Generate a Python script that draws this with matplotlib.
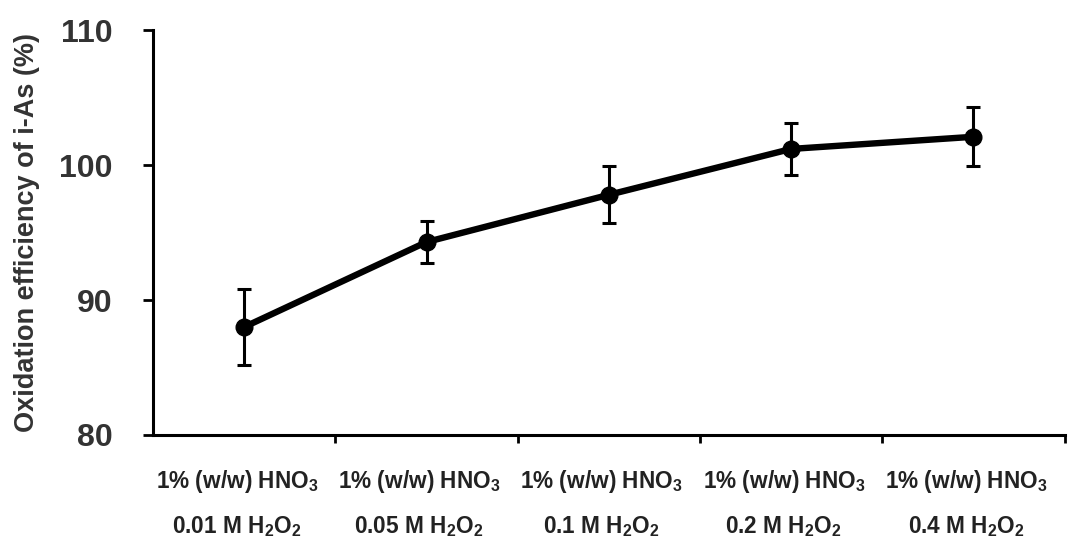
import matplotlib
matplotlib.use('Agg')
import matplotlib.pyplot as plt
import numpy as np

# Data
hno3 = ['1% (w/w) HNO$_3$'] * 5
h2o2 = ['0.01 M H$_2$O$_2$', '0.05 M H$_2$O$_2$', '0.1 M H$_2$O$_2$',
        '0.2 M H$_2$O$_2$', '0.4 M H$_2$O$_2$']
efficiency = [88.0, 94.3, 97.8, 101.2, 102.1]
errors = [2.85, 1.55, 2.1, 1.9, 2.2]

plt.rcParams['font.family'] = ['Liberation Sans', 'DejaVu Sans']
plt.rcParams['font.weight'] = 'bold'
plt.rcParams['axes.labelweight'] = 'bold'
plt.rcParams['mathtext.fontset'] = 'custom'
plt.rcParams['mathtext.rm'] = 'Liberation Sans:bold'
plt.rcParams['mathtext.bf'] = 'Liberation Sans:bold'
plt.rcParams['mathtext.default'] = 'bf'

fig = plt.figure(figsize=(10.7, 5.39), dpi=100)
ax = fig.add_axes([0.143, 0.193, 0.852, 0.751])

x = np.arange(len(efficiency))
ax.errorbar(x, efficiency, yerr=errors, color='black', linewidth=4.6,
            marker='o', markersize=12, elinewidth=2.2, capsize=5,
            capthick=2.2)

ax.set_xlim(-0.5, len(x) - 0.5)
ax.set_ylim(80, 110)
ax.set_yticks([80, 90, 100, 110])
ax.tick_params(axis='y', labelsize=23, width=2, length=7, pad=22,
               colors='black', labelcolor='#333333')

# category boundaries as ticks, labels at centers
ax.set_xticks(np.arange(len(x)) + 0.5)
ax.set_xticklabels([])
ax.tick_params(axis='x', which='major', width=2, length=6)
for i in x:
    lab = ax.get_xaxis_transform()
    ax.text(i - 0.04, -0.115, hno3[i], transform=lab, ha='center', va='center',
            fontsize=16.3, color='#222222')
    ax.text(i - 0.04, -0.225, h2o2[i], transform=lab, ha='center', va='center',
            fontsize=16.3, color='#222222')

for s in ['top', 'right']:
    ax.spines[s].set_visible(False)
for s in ['left', 'bottom']:
    ax.spines[s].set_linewidth(2.2)

ax.set_ylabel('Oxidation efficiency of i-As (%)', fontsize=19.5,
              fontweight='bold', color='#333333', labelpad=14)

fig.savefig('out.png', dpi=100)
